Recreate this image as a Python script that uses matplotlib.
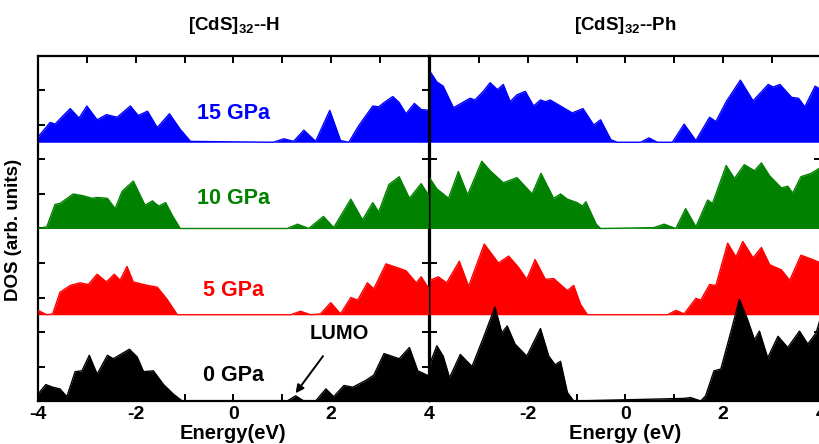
import numpy as np
import matplotlib
matplotlib.use("Agg")
import matplotlib.pyplot as plt

plt.rcParams['font.family'] = ['Liberation Sans', 'DejaVu Sans']
plt.rcParams['font.weight'] = 'bold'
plt.rcParams['mathtext.fontset'] = 'custom'
plt.rcParams['mathtext.rm'] = 'Liberation Sans:bold'
plt.rcParams['mathtext.default'] = 'rm'

# ---- [CdS]32--H : energy (eV) and DOS for each pressure ----
e15_h = [-4, -3.75, -3.65, -3.55, -3.34, -3.16, -3.0, -2.79, -2.6, -2.38, -2.11, -1.95, -1.76, -1.56, -1.31,
         -1.09, -0.88, 0.82, 1.03, 1.23, 1.44, 1.68, 1.97, 2.19, 2.36, 2.56, 2.85, 2.97, 3.08, 3.26, 3.39,
         3.53, 3.7, 3.84, 4.0]
d15_h = [0.06, 0.23, 0.21, 0.27, 0.39, 0.28, 0.42, 0.26, 0.32, 0.29, 0.42, 0.31, 0.36, 0.17, 0.33,
         0.15, 0.01, 0, 0.04, 0.01, 0.14, 0.01, 0.37, 0.02, 0, 0.19, 0.42, 0.41, 0.46, 0.53, 0.46,
         0.33, 0.45, 0.38, 0.37]

e10_h = [-4, -3.82, -3.65, -3.55, -3.28, -3.08, -2.89, -2.79, -2.58, -2.42, -2.28, -2.05, -1.81, -1.66, -1.53,
         -1.39, -1.25, -1.09, 1.1, 1.31, 1.54, 1.84, 2.05, 2.4, 2.64, 2.85, 2.97, 3.18, 3.39, 3.6, 3.84, 4.0]
d10_h = [0, 0.02, 0.28, 0.29, 0.40, 0.38, 0.35, 0.36, 0.35, 0.23, 0.43, 0.55, 0.27, 0.32, 0.26,
         0.30, 0.15, 0, 0, 0.05, 0, 0.14, 0.01, 0.34, 0.10, 0.30, 0.19, 0.51, 0.60, 0.35, 0.52, 0.38]

e5_h = [-4, -3.82, -3.7, -3.55, -3.34, -3.14, -2.97, -2.79, -2.6, -2.44, -2.32, -2.18, -2.05, -1.76, -1.56,
        -1.36, -1.15, 1.17, 1.37, 1.58, 1.78, 1.99, 2.19, 2.4, 2.54, 2.74, 2.87, 3.12, 3.33, 3.53, 3.74, 3.84, 4.0]
d5_h = [0.05, 0, 0.01, 0.26, 0.34, 0.37, 0.35, 0.47, 0.38, 0.47, 0.40, 0.56, 0.38, 0.34, 0.32,
        0.18, 0, 0, 0.04, 0, 0.01, 0.14, 0.01, 0.20, 0.17, 0.37, 0.30, 0.59, 0.55, 0.51, 0.37, 0.44, 0.30]

e0_h = [-4, -3.84, -3.7, -3.55, -3.41, -3.24, -3.1, -2.95, -2.79, -2.58, -2.46, -2.13, -1.97, -1.84, -1.64,
        -1.43, -1.23, -1.05, 1.1, 1.27, 1.44, 1.68, 1.89, 2.05, 2.26, 2.44, 2.71, 2.87, 3.08, 3.39, 3.6, 3.77, 4.0]
d0_h = [0.08, 0.19, 0.16, 0.14, 0.05, 0.34, 0.35, 0.53, 0.31, 0.53, 0.49, 0.60, 0.51, 0.34, 0.35,
        0.19, 0.08, 0, 0, 0.06, 0, 0, 0.14, 0.05, 0.18, 0.16, 0.24, 0.30, 0.55, 0.49, 0.62, 0.35, 0.29]

# ---- [CdS]32--Ph ----
e15_p = [-4, -3.86, -3.73, -3.52, -3.18, -3.08, -2.91, -2.77, -2.62, -2.5, -2.36, -2.22, -2.05, -1.88, -1.74,
         -1.64, -1.54, -1.33, -1.09, -0.87, -0.65, -0.51, -0.3, -0.17, 0.31, 0.48, 0.65, 0.96, 1.2, 1.44,
         1.72, 1.85, 2.06, 2.35, 2.61, 2.92, 3.02, 3.16, 3.4, 3.54, 3.67, 3.88, 4.0]
d15_p = [0.82, 0.70, 0.65, 0.40, 0.51, 0.49, 0.59, 0.69, 0.61, 0.67, 0.47, 0.55, 0.59, 0.42, 0.49,
         0.47, 0.49, 0.42, 0.34, 0.39, 0.20, 0.26, 0.03, 0, 0, 0.05, 0, 0, 0.21, 0.02,
         0.29, 0.24, 0.47, 0.72, 0.48, 0.67, 0.64, 0.67, 0.52, 0.51, 0.41, 0.65, 0.61]

e10_p = [-4, -3.86, -3.62, -3.42, -3.23, -2.94, -2.77, -2.5, -2.22, -1.91, -1.73, -1.47, -1.33, -1.19, -0.99,
         -0.88, -0.81, -0.6, -0.51, 0.58, 0.79, 1.03, 1.23, 1.44, 1.68, 1.78, 2.06, 2.23, 2.43, 2.64,
         2.78, 2.95, 3.19, 3.32, 3.42, 3.59, 3.8, 4.0]
d10_p = [0.58, 0.46, 0.35, 0.66, 0.39, 0.78, 0.67, 0.53, 0.59, 0.40, 0.64, 0.35, 0.40, 0.34, 0.30,
         0.26, 0.31, 0.05, 0, 0.01, 0.05, 0, 0.23, 0.02, 0.33, 0.29, 0.73, 0.58, 0.74, 0.67,
         0.76, 0.61, 0.47, 0.49, 0.41, 0.60, 0.64, 0.71]

e5_p = [-4, -3.83, -3.66, -3.4, -3.21, -2.89, -2.6, -2.39, -2.19, -2.02, -1.85, -1.64, -1.47, -1.19, -1.06,
        -0.92, -0.78, 0.86, 1.03, 1.2, 1.44, 1.54, 1.72, 1.85, 2.09, 2.26, 2.4, 2.61, 2.78, 2.95,
        3.19, 3.36, 3.59, 3.83, 4.0]
d5_p = [0.40, 0.44, 0.37, 0.62, 0.33, 0.82, 0.60, 0.68, 0.55, 0.41, 0.64, 0.41, 0.42, 0.28, 0.34,
        0.12, 0, 0, 0.05, 0.01, 0.19, 0.17, 0.35, 0.34, 0.83, 0.67, 0.85, 0.66, 0.78, 0.58,
        0.52, 0.40, 0.69, 0.64, 0.60]

e0_p = [-4, -3.97, -3.86, -3.73, -3.6, -3.38, -3.14, -2.91, -2.67, -2.53, -2.42, -2.26, -2.02, -1.74, -1.57,
        -1.44, -1.33, -1.19, -1.06, 1.2, 1.33, 1.54, 1.64, 1.81, 1.95, 2.16, 2.33, 2.5, 2.64, 2.74,
        2.91, 3.12, 3.32, 3.56, 3.73, 3.9, 4.0]
d0_p = [0.40, 0.48, 0.64, 0.52, 0.27, 0.54, 0.40, 0.73, 1.09, 0.79, 0.87, 0.66, 0.52, 0.84, 0.52,
        0.42, 0.46, 0.10, 0, 0.03, 0.04, 0, 0.06, 0.35, 0.37, 0.81, 1.18, 0.94, 0.71, 0.81,
        0.50, 0.75, 0.62, 0.81, 0.66, 0.79, 0.98]

pressures = ['15 GPa', '10 GPa', '5 GPa', '0 GPa']
offsets = [3, 2, 1, 0]
colors = ['#0000ff', '#008200', '#ff0000', '#000000']
label_y = [3.33, 2.35, 1.28, 0.29]

fig = plt.figure(figsize=(8.2, 4.44), dpi=100)
ax1 = fig.add_axes([38/820, 43/444, 391/820, 345/444])
ax2 = fig.add_axes([430/820, 43/444, 391/820, 345/444])

panels = [(ax1, [(e15_h, d15_h), (e10_h, d10_h), (e5_h, d5_h), (e0_h, d0_h)]),
          (ax2, [(e15_p, d15_p), (e10_p, d10_p), (e5_p, d5_p), (e0_p, d0_p)])]

for ax, series in panels:
    for i in range(4):
        e = np.array(series[i][0])
        d = np.array(series[i][1])
        base = offsets[i]
        ax.fill_between(e, base, base + d, color=colors[i], lw=0, zorder=2 + i)
        ax.plot(e, base + d, color=colors[i], lw=1, zorder=2 + i)
    ax.set_xlim(-4, 4)
    ax.set_ylim(0, 4)
    ax.set_xticks(np.arange(-4, 5, 1))
    ax.set_yticks(np.arange(0, 4, 0.4))
    ax.set_yticklabels([])
    ax.tick_params(direction='in', top=True, right=True, length=5, width=1.4,
                   labelsize=14, pad=3.5)
    for s in ax.spines.values():
        s.set_linewidth(1.6)

ax1.set_xticklabels(['-4', '', '-2', '', '0', '', '2', '', '4'], fontweight='bold')
ax2.set_xticklabels(['', '', '-2', '', '0', '', '2', '', '4'], fontweight='bold')

for i in range(4):
    ax1.text(0, label_y[i], pressures[i], color=colors[i], fontsize=15.5,
             fontweight='bold', ha='center', va='center', zorder=10)

ax1.annotate('LUMO', xy=(1.27, 0.09), xytext=(2.17, 0.78), fontsize=14.5, fontweight='bold',
             ha='center', va='center', zorder=10,
             arrowprops=dict(arrowstyle='-|>', color='black', lw=1.4, mutation_scale=12,
                             shrinkA=9, shrinkB=0))

fig.text(234/820, (444-30)/444, r'[CdS]$_{32}$--H', fontsize=13.5, fontweight='bold',
         ha='center', va='baseline')
fig.text(625/820, (444-30)/444, r'[CdS]$_{32}$--Ph', fontsize=13.5, fontweight='bold',
         ha='center', va='baseline')
fig.text(14/820, 1 - 230/444, 'DOS (arb. units)', fontsize=13.5, fontweight='bold',
         rotation=90, ha='center', va='center')
fig.text(233/820, 5/444, 'Energy(eV)', fontsize=14.5, fontweight='bold', ha='center', va='baseline')
fig.text(625/820, 5/444, 'Energy (eV)', fontsize=14.5, fontweight='bold', ha='center', va='baseline')

fig.savefig('out.png', dpi=100)
